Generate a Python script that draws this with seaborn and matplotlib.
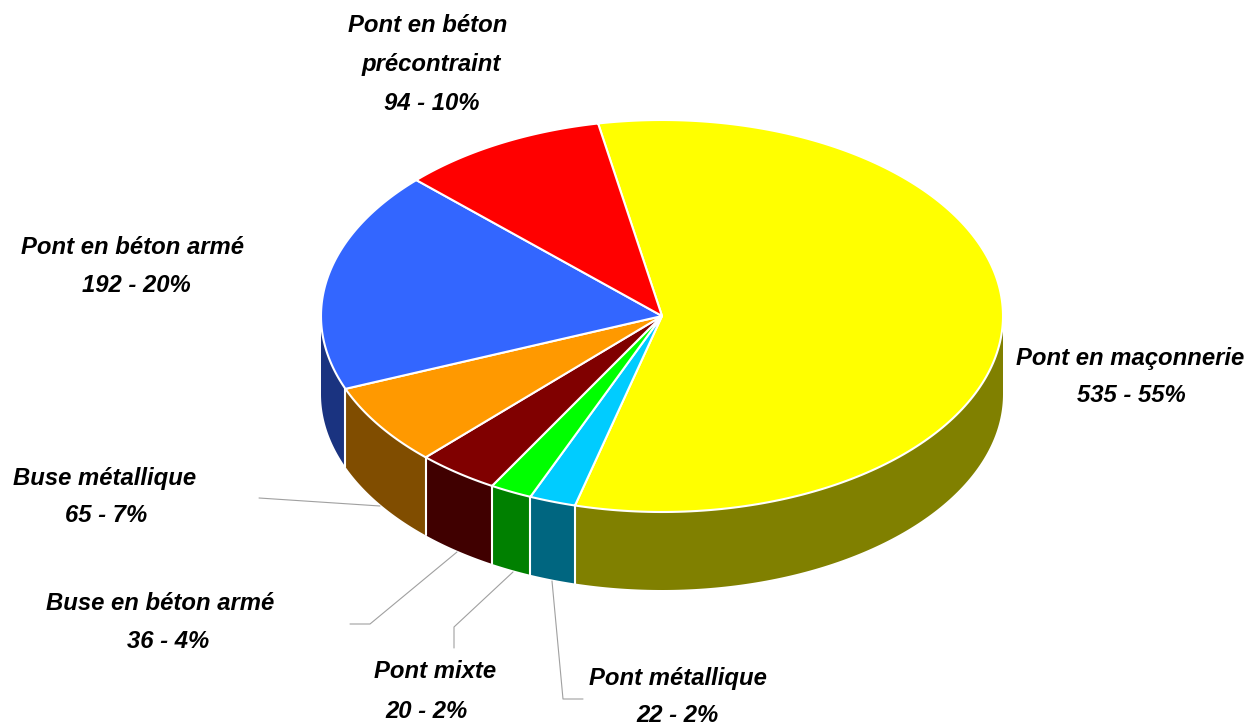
# camembert 3D - ouvrages par type

import numpy as np
import matplotlib
matplotlib.use('Agg')
import matplotlib.pyplot as plt
import seaborn as sns

# donnees (sens horaire depuis le haut)
names = ['Pont en maçonnerie', 'Pont métallique', 'Pont mixte', 'Buse en béton armé',
         'Buse métallique', 'Pont en béton armé', 'Pont en béton\nprécontraint']
counts = [535, 22, 20, 36, 65, 192, 94]
percents = [55, 2, 2, 4, 7, 20, 10]

# couleurs dessus / flanc
top_hex = ['#FFFF00', '#00CCFF', '#00FF00', '#800000', '#FF9900', '#3366FF', '#FF0000']
side_hex = ['#808000', '#006680', '#008000', '#400000', '#804D00', '#1A3380', '#800000']

# centre du texte de chaque ligne (pixels)
label_pos = [[(1130, 358), (1131, 396)],
             [(678, 678), (678, 716)],
             [(435, 672), (427, 711)],
             [(160, 603), (168, 641)],
             [(105, 478), (106, 516)],
             [(133, 248), (136, 286)],
             [(428, 26), (431, 64), (432, 103)]]

# traits de rappel
leaders = [[(259, 498), (380, 506)],
           [(350, 624), (370, 624), (457, 552)],
           [(454, 648), (454, 627), (513, 572)],
           [(552, 581), (563, 699), (583, 699)]]

sns.set_style('white')
plt.rcParams['font.family'] = ['Liberation Sans', 'DejaVu Sans']
top_colors = sns.color_palette(top_hex)
side_colors = sns.color_palette(side_hex)

cx, cy, rx, ry, depth = 662, 316, 341, 196, 78


# le rendu 3D d'origine decale un peu les angles
def shift(a):
    return a + np.interp(a, [0, 200, 216, 230, 253, 325, 360],
                         [-10.8, -5, -5.6, -5, -5, -11, -10.8])


def rim(a):
    r = np.radians(a)
    return cx + rx * np.sin(r), cy - ry * np.cos(r)


fig = plt.figure(figsize=(12.49, 7.26), dpi=100)
ax = fig.add_axes([0, 0, 1, 1])
ax.set_xlim(0, 1249)
ax.set_ylim(726, 0)
ax.axis('off')

edges = np.concatenate([[0], np.cumsum(counts)]) / np.sum(counts) * 360
starts = [shift(e) for e in edges[:-1]]
ends = [shift(e) for e in edges[1:]]

# traits de rappel sous le camembert
for line in leaders:
    xs, ys = zip(*line)
    ax.plot(xs, ys, color='#a0a0a0', lw=0.8, zorder=1)

# flanc (moitie avant seulement)
for a, b, c in zip(starts, ends, side_colors):
    lo, hi = max(a, 90), min(b, 270)
    if lo >= hi:
        continue
    x, y = rim(np.linspace(lo, hi, 120))
    ax.fill(np.r_[x, x[::-1]], np.r_[y, y[::-1] + depth], color=c, lw=0, zorder=2)

# separations blanches du flanc
for a in starts[1:6]:
    x, y = rim(a)
    ax.plot([x, x], [y, y + depth], color='white', lw=1.5, zorder=3)

# dessus
for a, b, c in zip(starts, ends, top_colors):
    x, y = rim(np.linspace(a, b, 200))
    ax.fill(np.r_[cx, x], np.r_[cy, y], facecolor=c, edgecolor='white', lw=1.5,
            joinstyle='round', zorder=4)

# etiquettes
for name, n, p, pos in zip(names, counts, percents, label_pos):
    lines = name.split('\n') + [f'{n} - {p}%']
    for txt, (x, y) in zip(lines, pos):
        ax.text(x, y, txt, ha='center', va='center', fontsize=17.2,
                fontweight='bold', fontstyle='italic', color='black', zorder=5)

fig.savefig('out.png', dpi=100)
